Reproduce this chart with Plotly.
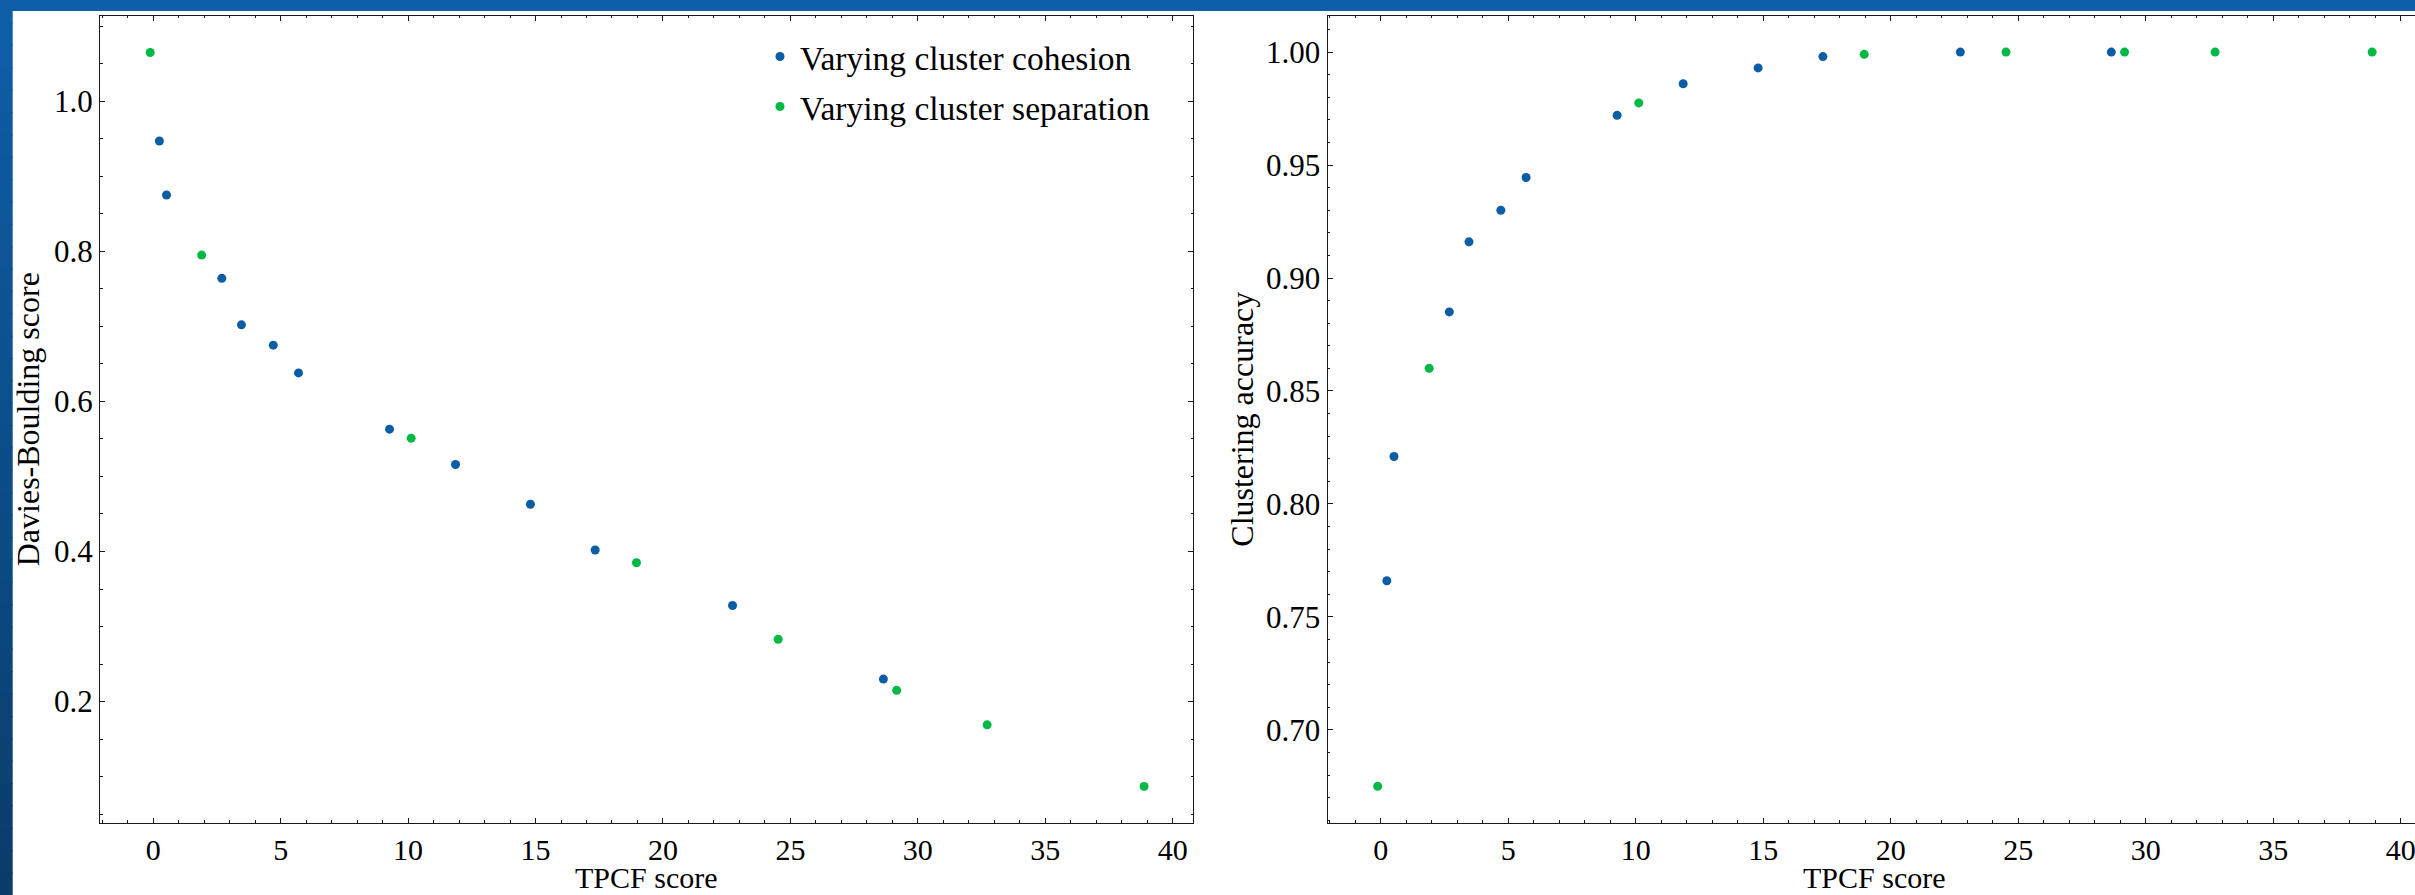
import plotly.graph_objects as go

# ---------------- data ----------------
series_names = ["Varying cluster cohesion", "Varying cluster separation"]

cohesion_tpcf = [0.24, 0.52, 2.69, 3.46, 4.71, 5.70, 9.27, 11.86, 14.80, 17.34, 22.73, 28.65]
cohesion_db = [0.947, 0.875, 0.764, 0.702, 0.675, 0.638, 0.563, 0.516, 0.463, 0.402, 0.328, 0.230]
cohesion_acc = [0.766, 0.821, 0.885, 0.916, 0.930, 0.9445, 0.972, 0.986, 0.993, 0.998, 1.0, 1.0]

separation_tpcf = [-0.12, 1.90, 10.12, 18.96, 24.52, 29.17, 32.72, 38.88]
separation_db = [1.065, 0.795, 0.551, 0.385, 0.283, 0.215, 0.169, 0.087]
separation_acc = [0.675, 0.860, 0.9775, 0.999, 1.0, 1.0, 1.0, 1.0]

x_title = "TPCF score"
y_titles = ["Davies-Boulding score", "Clustering accuracy"]

# ---------------- style ----------------
W, H = 2415, 895
BLUE = "#0C5DA5"
GREEN = "#00B945"
FONT = "Liberation Serif"
AX = "#1a1a1a"
TICK_SIZE = 31
XTICK_SIZE = 30
TITLE_SIZE = 32
XTITLE_SIZE = 30
LEGEND_SIZE = 33.5


def fx(p):
    return p / W


def fy(p):
    return 1 - p / H


fig = go.Figure()

fig.add_trace(go.Scatter(x=cohesion_tpcf, y=cohesion_db, mode="markers", name=series_names[0],
                         marker=dict(color=BLUE, size=9, line=dict(width=0)),
                         xaxis="x", yaxis="y", legend="legend"))
fig.add_trace(go.Scatter(x=separation_tpcf, y=separation_db, mode="markers", name=series_names[1],
                         marker=dict(color=GREEN, size=9, line=dict(width=0)),
                         xaxis="x", yaxis="y", legend="legend2"))
fig.add_trace(go.Scatter(x=cohesion_tpcf, y=cohesion_acc, mode="markers", name=series_names[0],
                         marker=dict(color=BLUE, size=9, line=dict(width=0)),
                         xaxis="x2", yaxis="y2", showlegend=False))
fig.add_trace(go.Scatter(x=separation_tpcf, y=separation_acc, mode="markers", name=series_names[1],
                         marker=dict(color=GREEN, size=9, line=dict(width=0)),
                         xaxis="x2", yaxis="y2", showlegend=False))


def axis_style(mirror, minor_dtick, dtick, fmt, tsize):
    return dict(
        showline=True, linecolor=AX, linewidth=1.3, mirror=mirror,
        ticks="inside", ticklen=5, tickwidth=1.1, tickcolor=AX,
        minor=dict(ticks="inside", ticklen=2.5, tickwidth=1, tickcolor=AX, dtick=minor_dtick, showgrid=False),
        dtick=dtick, tickformat=fmt,
        showgrid=False, zeroline=False,
        ticklabeloverflow="allow",
        tickfont=dict(family=FONT, size=tsize, color="black"),
        title_font=dict(family=FONT, size=TITLE_SIZE, color="black"),
    )


ydom = [fy(822.7), fy(15.7)]
xdom1 = [fx(100), fx(1193.3)]
xdom2 = [fx(1327.7), 1.0]

fig.update_layout(
    width=W, height=H, autosize=False,
    margin=dict(l=0, r=0, t=0, b=0, pad=0),
    paper_bgcolor="white", plot_bgcolor="white",
    xaxis=dict(domain=xdom1, range=[-2.09, 40.81], anchor="y", tick0=0,
               **axis_style("allticks", 1, 5, "d", XTICK_SIZE)),
    yaxis=dict(domain=ydom, range=[0.0386, 1.114], anchor="x",
               title=dict(text=y_titles[0], standoff=4), tick0=0,
               **axis_style("allticks", 0.05, 0.2, ".1f", TICK_SIZE)),
    xaxis2=dict(domain=xdom2, range=[-2.08, 40.56], anchor="y2", tick0=0,
                **axis_style("allticks", 1, 5, "d", XTICK_SIZE)),
    yaxis2=dict(domain=ydom, range=[0.6589, 1.0161], anchor="x2",
                title=dict(text=y_titles[1], standoff=2), tick0=0,
                **axis_style(False, 0.01, 0.05, ".2f", TICK_SIZE)),
    legend=dict(x=fx(760), y=fy(56.7), xanchor="left", yanchor="middle",
                bgcolor="rgba(0,0,0,0)", borderwidth=0,
                font=dict(family=FONT, size=LEGEND_SIZE, color="black")),
    legend2=dict(x=fx(760), y=fy(106.7), xanchor="left", yanchor="middle",
                 bgcolor="rgba(0,0,0,0)", borderwidth=0,
                 font=dict(family=FONT, size=LEGEND_SIZE, color="black")),
)

# x-axis titles, centred under each panel at the bottom edge
for cx in [(xdom1[0] + xdom1[1]) / 2, fx((1327.7 + 2421.0) / 2)]:
    fig.add_annotation(text=x_title, xref="paper", yref="paper", x=cx, y=0,
                       xanchor="center", yanchor="bottom", showarrow=False,
                       borderpad=0,
                       font=dict(family=FONT, size=XTITLE_SIZE, color="black"))

# decorative blue frame (top band and left band with vertical gradient)
shapes = [dict(type="rect", xref="paper", yref="paper", x0=0, x1=1, y0=fy(11), y1=1,
               fillcolor="#0e5fa9", line=dict(width=0), layer="below")]
top_rgb = (0x0e, 0x5f, 0xa9)
bot_rgb = (0x0a, 0x3c, 0x6a)
n = 40
for i in range(n):
    t = (i + 0.5) / n
    c = tuple(int(round(a + (b - a) * t)) for a, b in zip(top_rgb, bot_rgb))
    y0p = H * i / n
    y1p = H * (i + 1) / n + 1
    shapes.append(dict(type="rect", xref="paper", yref="paper", x0=0, x1=fx(12.7),
                       y0=fy(min(y1p, H)), y1=fy(y0p),
                       fillcolor="#%02x%02x%02x" % c, line=dict(width=0), layer="below"))
fig.update_layout(shapes=shapes)

post_js = (
    "document.documentElement.style.margin='0';"
    "document.documentElement.style.overflow='hidden';"
    "document.body.style.margin='0';"
    "document.body.style.padding='0';"
    "document.body.style.overflow='hidden';"
)

fig.write_html("out.html", post_script=post_js, config={"displayModeBar": False})
